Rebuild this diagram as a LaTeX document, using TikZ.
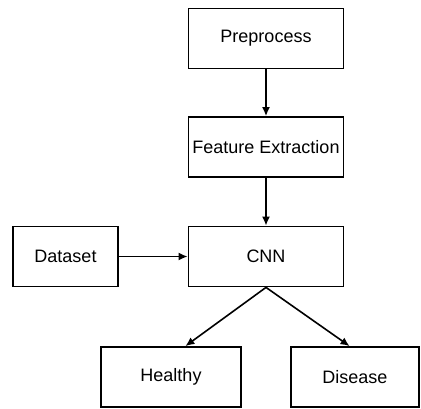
\documentclass[tikz,border=0pt]{standalone}
\usepackage{fontspec}
\setmainfont{Liberation Sans}
\usepackage{tikz}
\usetikzlibrary{arrows.meta}

\begin{document}
\begin{tikzpicture}[x=1pt,y=-1pt,every node/.style={font=\fontsize{18}{21}\selectfont},
  box/.style={draw,line width=1.8pt,inner sep=0pt,minimum height=60pt},
  flow/.style={-{Latex[length=9pt,width=8pt]},line width=1.6pt}]
  \useasboundingbox (0,0) rectangle (421,408);
  \node[box,minimum width=155pt] (pre) at (266,38.5){Preprocess};
  \node[box,minimum width=155pt] (feat) at (266,147){Feature Extraction};
  \node[box,minimum width=155pt] (cnn) at (266,256.5){CNN};
  \node[box,minimum width=105pt] (data) at (65.5,256.5){Dataset};
  \node[box,minimum width=140pt] (healthy) at (171,377){Healthy};
  \node[box,minimum width=128pt] (disease) at (355,377){Disease};
  \draw[flow] (pre) -- (feat);
  \draw[flow] (feat) -- (cnn);
  \draw[flow] (data) -- (cnn);
  \draw[flow] (cnn.south) -- (healthy.65);
  \draw[flow] (cnn.south) -- (disease.100);
\end{tikzpicture}
\end{document}
